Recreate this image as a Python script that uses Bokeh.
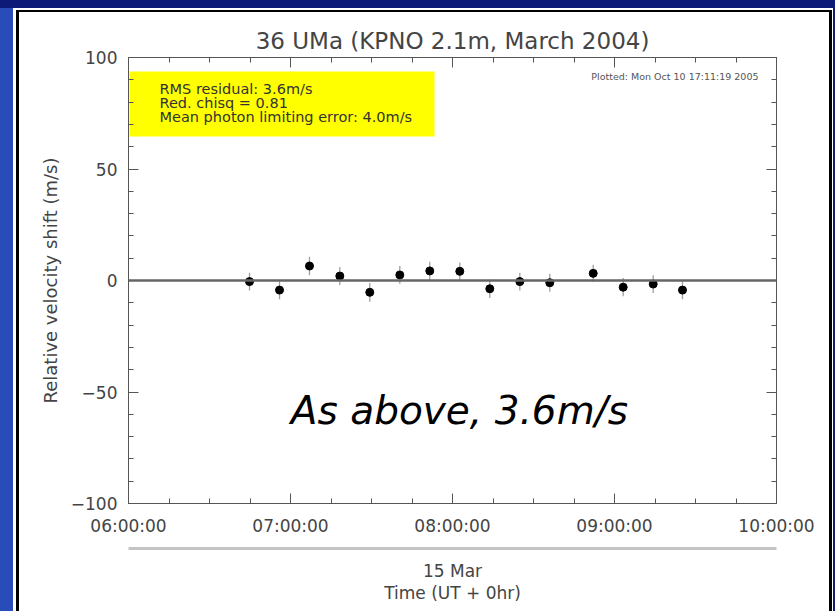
import pandas as pd
from bokeh.plotting import figure
from bokeh.models import (Range1d, FixedTicker, DatetimeAxis, LinearAxis, Span,
                          BoxAnnotation, Label, ColumnDataSource)
from bokeh.embed import file_html
from bokeh.resources import INLINE

# ---------------- data ----------------
obs_date = "2004-03-15"
obs_times = ["06:44:49", "06:55:56", "07:07:02", "07:18:16", "07:29:22",
             "07:40:29", "07:51:35", "08:02:42", "08:13:49", "08:24:56",
             "08:36:02", "08:52:07", "09:03:13", "09:14:20", "09:25:11"]
velocity = [-0.5, -4.3, 6.5, 2.0, -5.3, 2.5, 4.3, 4.1, -3.7, -0.5,
            -1.0, 3.2, -3.0, -1.6, -4.3]
velocity_err = [4.0, 4.1, 4.2, 4.0, 4.2, 4.0, 4.1, 4.0, 4.2, 4.0,
                4.0, 3.9, 4.1, 4.0, 4.1]

x_major_times = ["06:00:00", "07:00:00", "08:00:00", "09:00:00", "10:00:00"]
x_tick_labels = ["06:00:00", "07:00:00", "08:00:00", "09:00:00", "10:00:00"]
x_minor_step_min = 15
y_ticks = [-100, -50, 0, 50, 100]
y_tick_labels = ["\u2212100", "\u221250", "0", "50", "100"]
y_minor_ticks = list(range(-100, 101, 10))

title_text = "36 UMa (KPNO 2.1m, March 2004)"
y_label = "Relative velocity shift (m/s)"
x_label = "15 Mar\nTime (UT + 0hr)"
stats_lines = ["RMS residual: 3.6m/s", "Red. chisq = 0.81",
               "Mean photon limiting error: 4.0m/s"]
plotted_text = "Plotted: Mon Oct 10 17:11:19 2005"
comment_text = "As above, 3.6m/s"

FONT = "DejaVu Sans"
TXT = "#444444"
AX = "#555555"


def ts(t):
    return pd.Timestamp(f"{obs_date} {t}")


def ms(t):
    return ts(t).value // 10**6


x = [ts(t) for t in obs_times]
src = ColumnDataSource(dict(
    x=x, v=velocity,
    lo=[v - e for v, e in zip(velocity, velocity_err)],
    hi=[v + e for v, e in zip(velocity, velocity_err)],
))

x_major = [ms(t) for t in x_major_times]
x_minor = list(range(x_major[0], x_major[-1] + 1, x_minor_step_min * 60 * 1000))

p = figure(width=835, height=611, x_axis_type="datetime",
           x_range=Range1d(ts(x_major_times[0]), ts(x_major_times[-1])),
           y_range=Range1d(y_ticks[0], y_ticks[-1]),
           output_backend="svg", toolbar_location=None,
           min_border_left=128, min_border_right=59,
           min_border_top=57, min_border_bottom=108,
           background_fill_color="white", border_fill_color=None,
           outline_line_color=None)
p.grid.visible = False

# slide-like frame around the white panel (CSS decoration of the host element)
p.styles = {
    "background-color": "white",
    "box-shadow": ("inset 0 8px 0 0 #0d1a78, inset 13px 0 0 0 #2a4cb8, "
                   "inset -2px 0 0 0 #0d1a78, "
                   "inset 16px 10px 0 0 white, inset -3px 0 0 0 white, "
                   "inset 19px 12px 0 0 black, inset -6px 0 0 0 black"),
}

p.title.text = title_text
p.title.align = "center"
p.title.text_font = FONT
p.title.text_font_size = "23px"
p.title.text_font_style = "normal"
p.title.text_color = TXT
p.title.standoff = 8

xt = FixedTicker(ticks=x_major, minor_ticks=x_minor)
yt = FixedTicker(ticks=y_ticks, minor_ticks=y_minor_ticks)


def style_axis(ax, labels=True):
    ax.axis_line_color = AX
    ax.major_tick_line_color = AX
    ax.minor_tick_line_color = AX
    ax.major_tick_in = 10
    ax.major_tick_out = 0
    ax.minor_tick_in = 5
    ax.minor_tick_out = 0
    ax.major_label_text_font = FONT
    ax.major_label_text_color = TXT
    ax.axis_label_text_font = FONT
    ax.axis_label_text_color = TXT
    ax.axis_label_text_font_style = "normal"
    if labels:
        ax.major_label_text_font_size = "17px"
    else:
        ax.major_label_text_font_size = "1px"
        ax.major_label_text_color = None
        ax.major_label_standoff = 0


# bottom axis
xb = p.xaxis[0]
xb.ticker = xt
xb.major_label_overrides = {k: v for k, v in zip(x_major, x_tick_labels)}
style_axis(xb)
xb.major_label_standoff = 12
xb.axis_label = " "
xb.axis_label_text_font_size = "6px"
xb.axis_label_standoff = 0

# second bottom axis: grey bar + date / time label
xb2 = LinearAxis(ticker=FixedTicker(ticks=[]), axis_label=x_label)
style_axis(xb2)
xb2.axis_line_color = "#c4c4c4"
xb2.axis_line_width = 3
xb2.axis_label_text_font_size = "17px"
xb2.axis_label_text_line_height = 1.12
xb2.axis_label_standoff = 12
p.add_layout(xb2, "below")

# left axis
yl = p.yaxis[0]
yl.ticker = yt
yl.major_label_overrides = {k: v for k, v in zip(y_ticks, y_tick_labels)}
style_axis(yl)
yl.major_label_standoff = 11
yl.axis_label = y_label
yl.axis_label_text_font_size = "18px"
yl.axis_label_standoff = 7

# mirrored axes
xtop = DatetimeAxis(ticker=xt)
style_axis(xtop, labels=False)
p.add_layout(xtop, "above")
yr = LinearAxis(ticker=yt)
style_axis(yr, labels=False)
p.add_layout(yr, "right")

# zero line
p.add_layout(Span(location=0, dimension="width", line_color="#666666",
                  line_width=2.5))

# data
p.segment(x0="x", y0="lo", x1="x", y1="hi", source=src,
          line_color="#a0a0a0", line_width=1.3)
p.scatter("x", "v", source=src, size=8, color="black")

# yellow stats box
p.add_layout(BoxAnnotation(left=ts("06:00:20"), right=ts("07:53:20"),
                           bottom=64.6, top=93.7, fill_color="#ffff00",
                           fill_alpha=1.0, line_color=None, level="underlay"))
for i, line in enumerate(stats_lines):
    p.add_layout(Label(x=ts("06:11:29"), y=86.0 - 6.3 * i, text=line,
                       text_font=FONT, text_font_size="14.5px",
                       text_color="#333333", text_baseline="middle"))

p.add_layout(Label(x=ts("09:53:20"), y=91.7, text=plotted_text,
                   text_font=FONT, text_font_size="9.5px", text_color="#555555",
                   text_align="right", text_baseline="middle"))

p.add_layout(Label(x=ts("08:02:35"), y=-58.5, text=comment_text,
                   text_font=FONT, text_font_size="39px",
                   text_font_style="italic", text_color="black",
                   text_align="center", text_baseline="middle"))

open("out.html", "w").write(file_html(p, INLINE))
